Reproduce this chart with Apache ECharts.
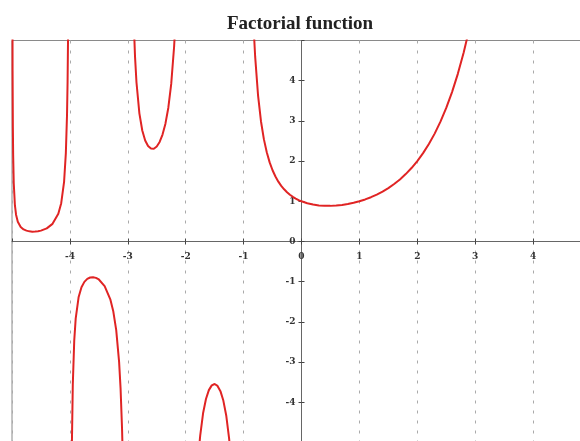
<!DOCTYPE html>
<html>
<head>
<meta charset="utf-8">
<script src="https://cdn.jsdelivr.net/npm/echarts@6/dist/echarts.min.js"></script>
<style>
html,body{margin:0;padding:0;background:#fff;}
#chart{width:580px;height:441px;}
</style>
</head>
<body>
<div id="chart"></div>
<script>
// Chart title
var titleText = 'Factorial function';

// Tick values
var xTicks = [-5, -4, -3, -2, -1, 0, 1, 2, 3, 4, 5];
var yTicks = [-5, -4, -3, -2, -1, 0, 1, 2, 3, 4, 5];

// Branch on (-5,-4): [x, x!]
var branch1 = [
  [-4.995, 8.40], [-4.99, 4.23], [-4.985, 2.84], [-4.98, 2.148], [-4.97, 1.455],
  [-4.95, 0.902], [-4.93, 0.667], [-4.9, 0.492], [-4.85, 0.361], [-4.8, 0.300],
  [-4.75, 0.270], [-4.7, 0.252], [-4.65, 0.2455], [-4.6, 0.247], [-4.55, 0.255],
  [-4.5, 0.270], [-4.4, 0.326], [-4.3, 0.439], [-4.2, 0.689], [-4.15, 0.952],
  [-4.1, 1.492], [-4.07, 2.197], [-4.05, 3.142], [-4.04, 3.972], [-4.03, 5.357],
  [-4.02, 8.2]
];

// Branch on (-4,-3)
var branch2 = [
  [-3.98, -8.5], [-3.97, -5.776], [-3.965, -4.984], [-3.95, -3.563], [-3.925, -2.463],
  [-3.9, -1.919], [-3.85, -1.388], [-3.8, -1.139], [-3.75, -1.005], [-3.7, -0.931],
  [-3.65, -0.896], [-3.6, -0.889], [-3.55, -0.905], [-3.5, -0.945], [-3.4, -1.108],
  [-3.3, -1.447], [-3.25, -1.743], [-3.2, -2.205], [-3.15, -3.000], [-3.125, -3.647],
  [-3.1, -4.626], [-3.09, -5.173], [-3.07, -7.3]
];

// Branch on (-3,-2)
var branch3 = [
  [-2.92, 6.9], [-2.9, 5.564], [-2.875, 4.592], [-2.85, 3.955], [-2.8, 3.188],
  [-2.75, 2.762], [-2.7, 2.514], [-2.65, 2.374], [-2.6, 2.311], [-2.55, 2.309],
  [-2.5, 2.363], [-2.45, 2.477], [-2.4, 2.659], [-2.35, 2.931], [-2.3, 3.328],
  [-2.25, 3.921], [-2.2, 4.851], [-2.175, 5.531], [-2.15, 6.6]
];

// Branch on (-2,-1)
var branch4 = [
  [-1.82, -6.4], [-1.8, -5.739], [-1.775, -5.232], [-1.75, -4.834], [-1.7, -4.274],
  [-1.65, -3.917], [-1.6, -3.697], [-1.55, -3.579], [-1.5, -3.545], [-1.45, -3.592],
  [-1.4, -3.723], [-1.35, -3.957], [-1.3, -4.327], [-1.25, -4.902], [-1.225, -5.306],
  [-1.2, -5.821], [-1.18, -6.6]
];

// Branch on (-1,5)
var branch5 = [
  [-0.85, 6.22], [-0.82, 5.134], [-0.8, 4.591], [-0.75, 3.626], [-0.7, 2.992],
  [-0.65, 2.546], [-0.6, 2.218], [-0.55, 1.968], [-0.5, 1.772], [-0.45, 1.616],
  [-0.4, 1.489], [-0.35, 1.385], [-0.3, 1.298], [-0.25, 1.225], [-0.2, 1.164],
  [-0.15, 1.112], [-0.1, 1.069], [-0.05, 1.031], [0, 1], [0.1, 0.9514],
  [0.2, 0.9182], [0.3, 0.8975], [0.4, 0.8873], [0.5, 0.8862], [0.6, 0.8935],
  [0.7, 0.9086], [0.8, 0.9314], [0.9, 0.9618], [1, 1], [1.1, 1.0465],
  [1.2, 1.1018], [1.3, 1.1668], [1.4, 1.2422], [1.5, 1.3293], [1.6, 1.4296],
  [1.7, 1.5446], [1.8, 1.6765], [1.9, 1.8274], [2, 2], [2.1, 2.1976],
  [2.2, 2.424], [2.3, 2.6836], [2.4, 2.9813], [2.5, 3.3234], [2.6, 3.717],
  [2.7, 4.1704], [2.8, 4.6942], [2.9, 5.2995], [3.0, 6]
];

var branches = [branch1, branch2, branch3, branch4, branch5];

var chart = echarts.init(document.getElementById('chart'), null, {renderer: 'canvas'});

var gridLeft = 12, gridTop = 40.5, gridW = 579, gridH = 402;

var labelFont = {
  fontFamily: 'DejaVu Serif',
  fontWeight: 'bold',
  fontSize: 9,
  color: '#333'
};

var series = branches.map(function (b) {
  return {
    type: 'line',
    data: b,
    xAxisIndex: 0,
    yAxisIndex: 0,
    showSymbol: false,
    symbol: 'none',
    clip: true,
    smooth: false,
    lineStyle: { color: '#e02424', width: 2 },
    z: 5,
    animation: false
  };
});

function xAx(inside) {
  return {
    type: 'value',
    gridIndex: 0,
    position: 'bottom',
    offset: -gridH / 2,
    min: xTicks[0],
    max: xTicks[xTicks.length - 1],
    interval: 1,
    axisLine: { show: !inside, onZero: false, lineStyle: { color: '#666', width: 1 } },
    axisTick: { show: true, inside: inside, length: 3, lineStyle: { color: '#444' } },
    axisLabel: Object.assign({ show: !inside, showMinLabel: false, showMaxLabel: false, margin: 11 }, labelFont),
    splitLine: { show: !inside, lineStyle: { color: '#aaa', type: [3, 7], width: 1 } }
  };
}
function yAx(inside) {
  return {
    type: 'value',
    gridIndex: 0,
    position: 'left',
    offset: -gridW / 2,
    min: yTicks[0],
    max: yTicks[yTicks.length - 1],
    interval: 1,
    axisLine: { show: !inside, onZero: false, lineStyle: { color: '#666', width: 1 } },
    axisTick: { show: true, inside: inside, length: 3, lineStyle: { color: '#444' } },
    axisLabel: Object.assign({ show: !inside, showMinLabel: false, showMaxLabel: false, margin: 6 }, labelFont),
    splitLine: { show: false }
  };
}

chart.setOption({
  animation: false,
  backgroundColor: '#fff',
  title: {
    text: titleText,
    left: 295,
    textAlign: 'center',
    top: 10,
    textStyle: {
      fontFamily: 'Liberation Serif',
      fontWeight: 'bold',
      fontSize: 19,
      color: '#222'
    }
  },
  grid: {
    left: gridLeft,
    top: gridTop,
    width: gridW,
    height: gridH,
    outerBoundsMode: 'none',
    containLabel: false,
    show: true,
    borderColor: '#8a8a8a',
    borderWidth: 1,
    backgroundColor: '#fff'
  },
  xAxis: [xAx(false), xAx(true)],
  yAxis: [yAx(false), yAx(true)],
  series: series
});
</script>
</body>
</html>
